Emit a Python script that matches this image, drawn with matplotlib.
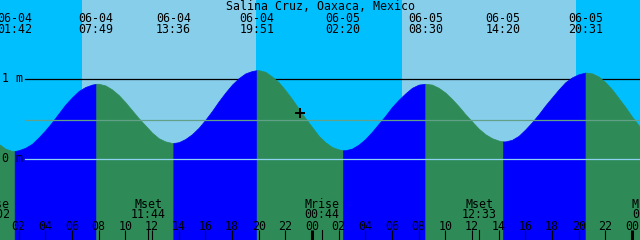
import numpy as np
import matplotlib
matplotlib.use("Agg")
import matplotlib.pyplot as plt
from matplotlib.transforms import blended_transform_factory

## chart data (times are local, heights in metres)
title = "Salina Cruz, Oaxaca, Mexico"

ext_dates = ["06-03", "06-04", "06-04", "06-04", "06-04", "06-05", "06-05", "06-05", "06-05", "06-06"]
ext_times = ["19:24", "01:42", "07:49", "13:36", "19:51", "02:20", "08:30", "14:20", "20:31", "02:54"]
ext_heights = [1.10, 0.10, 0.94, 0.20, 1.11, 0.11, 0.94, 0.22, 1.08, 0.12]

# tide height every half hour from 06-04 00:00
step_hours = 0.5
curve_heights = [
    0.27, 0.19, 0.13, 0.10, 0.11, 0.14, 0.19, 0.27, 0.36, 0.46,   # 00:00 - 04:30
    0.57, 0.68, 0.77, 0.85, 0.90, 0.93, 0.94, 0.92, 0.87, 0.80,   # 05:00 - 09:30
    0.71, 0.61, 0.51, 0.42, 0.33, 0.26, 0.22, 0.20, 0.21, 0.25,   # 10:00 - 14:30
    0.31, 0.39, 0.49, 0.60, 0.72, 0.83, 0.93, 1.01, 1.07, 1.10,   # 15:00 - 19:30
    1.11, 1.09, 1.03, 0.96, 0.86, 0.75, 0.63, 0.51, 0.40, 0.29,   # 20:00 - 00:30
    0.21, 0.15, 0.12, 0.11, 0.13, 0.18, 0.25, 0.34, 0.44, 0.54,   # 01:00 - 05:30
    0.65, 0.74, 0.82, 0.89, 0.93, 0.94, 0.93, 0.89, 0.83, 0.75,   # 06:00 - 10:30
    0.66, 0.56, 0.47, 0.38, 0.31, 0.26, 0.23, 0.22, 0.24, 0.29,   # 11:00 - 15:30
    0.37, 0.46, 0.56, 0.67, 0.77, 0.87, 0.96, 1.02, 1.06, 1.08,   # 16:00 - 20:30
    1.07, 1.03, 0.96, 0.87, 0.76, 0.65, 0.53, 0.42, 0.32,         # 21:00 - 01:00
]

sun_dates = ["06-04", "06-05"]
sunrise_times = ["06:45", "06:45"]
sunset_times = ["19:48", "19:48"]

moon_names = ["Mrise", "Mset", "Mrise", "Mset", "Mrise"]
moon_dates = ["06-04", "06-04", "06-05", "06-05", "06-06"]
moon_times = ["00:02", "11:44", "00:44", "12:33", "01:18"]

now_date, now_time, now_height = "06-04", "23:06", 0.58
mean_level = 0.49
datum_labels = ["1 m", "0 m"]
datum_levels = [1.0, 0.0]

## colours
NIGHT = "#00BFFF"
DAY = "#87CEEB"
RISING = "#0000FF"
FALLING = "#2E8B57"
MSL_COLOR = "#63A088"
ZERO_COLOR = "#8ED2F0"
FONT = dict(family="DejaVu Sans Mono", fontsize=8.4, color="black")


def to_hours(date, hhmm):
    day = int(date[3:]) - 4
    hh, mm = hhmm.split(":")
    return day * 24 + int(hh) + int(mm) / 60


t_start, t_end = 0.6, 48.6
W, H = 640, 240
# 1 m sits 80 px above 0 m, 0 m at 159 px from top
y_low = -(H - 159) / 80
y_high = 159 / 80

fig = plt.figure(figsize=(W / 100, H / 100), dpi=100)
ax = fig.add_axes([0, 0, 1, 1])
ax.set_xlim(t_start, t_end)
ax.set_ylim(y_low, y_high)
ax.axis("off")
fig.patch.set_facecolor(NIGHT)

bt = blended_transform_factory(ax.transData, ax.transAxes)


def top(px):
    return 1 - px / H


# day light
for d, r, s in zip(sun_dates, sunrise_times, sunset_times):
    ax.axvspan(to_hours(d, r), to_hours(d, s), color=DAY, lw=0, zorder=0.5)

# 1 m line goes under the water
ax.axhline(1.0, xmin=25 / W, xmax=1, color="black", lw=0.9, zorder=1)

# tide curve: half-hourly readings plus the extremes
ext_t = [to_hours(d, t) for d, t in zip(ext_dates, ext_times)]
read_t = [i * step_hours for i in range(len(curve_heights))]
curve_t = np.array(read_t + ext_t, dtype=float)
curve_h = np.array(curve_heights + ext_heights, dtype=float)
order = np.argsort(curve_t, kind="stable")
curve_t, curve_h = curve_t[order], curve_h[order]

for i in range(len(ext_t) - 1):
    a, b = ext_t[i], ext_t[i + 1]
    m = (curve_t >= a) & (curve_t <= b)
    col = RISING if ext_heights[i + 1] > ext_heights[i] else FALLING
    ax.fill_between(curve_t[m], curve_h[m], y_low, color=col, lw=0.5, edgecolor=col, zorder=2)

# mean and zero lines over the water
ax.axhline(mean_level, xmin=25 / W, xmax=1, color=MSL_COLOR, lw=0.9, zorder=3)
ax.axhline(0.0, xmin=25 / W, xmax=1, color=ZERO_COLOR, lw=0.9, zorder=3)

for lab, lev in zip(datum_labels, datum_levels):
    ax.text(2 / W, lev, lab, transform=blended_transform_factory(ax.transAxes, ax.transData),
            ha="left", va="center", zorder=4, **FONT)

# current time marker
ax.plot([to_hours(now_date, now_time)], [now_height], marker="+", color="black",
        markersize=7, mew=1.4, zorder=5)

# title and extreme labels
ax.text(0.5, top(9.5), title, transform=ax.transAxes, ha="center", va="baseline", zorder=4, **FONT)
for d, t, x in zip(ext_dates, ext_times, ext_t):
    if t_start - 1 < x < t_end + 1:
        ax.text(x, top(22), d, transform=bt, ha="center", va="baseline", zorder=4, **FONT)
        ax.text(x, top(33), t, transform=bt, ha="center", va="baseline", zorder=4, **FONT)

# moon events
for name, d, t in zip(moon_names, moon_dates, moon_times):
    x = to_hours(d, t)
    ax.text(x, top(207.5), name, transform=bt, ha="center", va="baseline", zorder=4, **FONT)
    ax.text(x, top(218.5), t, transform=bt, ha="center", va="baseline", zorder=4, **FONT)
    ax.plot([x, x], [0, top(230)], transform=bt, color="black", lw=0.8, zorder=4)

# hour ticks, thick at midnight
for hr in range(2, 49, 2):
    midnight = hr % 24 == 0
    ax.text(hr, top(230.5), f"{hr % 24:02d}", transform=bt, ha="center", va="baseline",
            zorder=4, **FONT)
    ax.plot([hr, hr], [0, top(230)], transform=bt, color="black",
            lw=2.2 if midnight else 0.8, zorder=4, solid_capstyle="butt")

fig.savefig("out.png", dpi=100)
